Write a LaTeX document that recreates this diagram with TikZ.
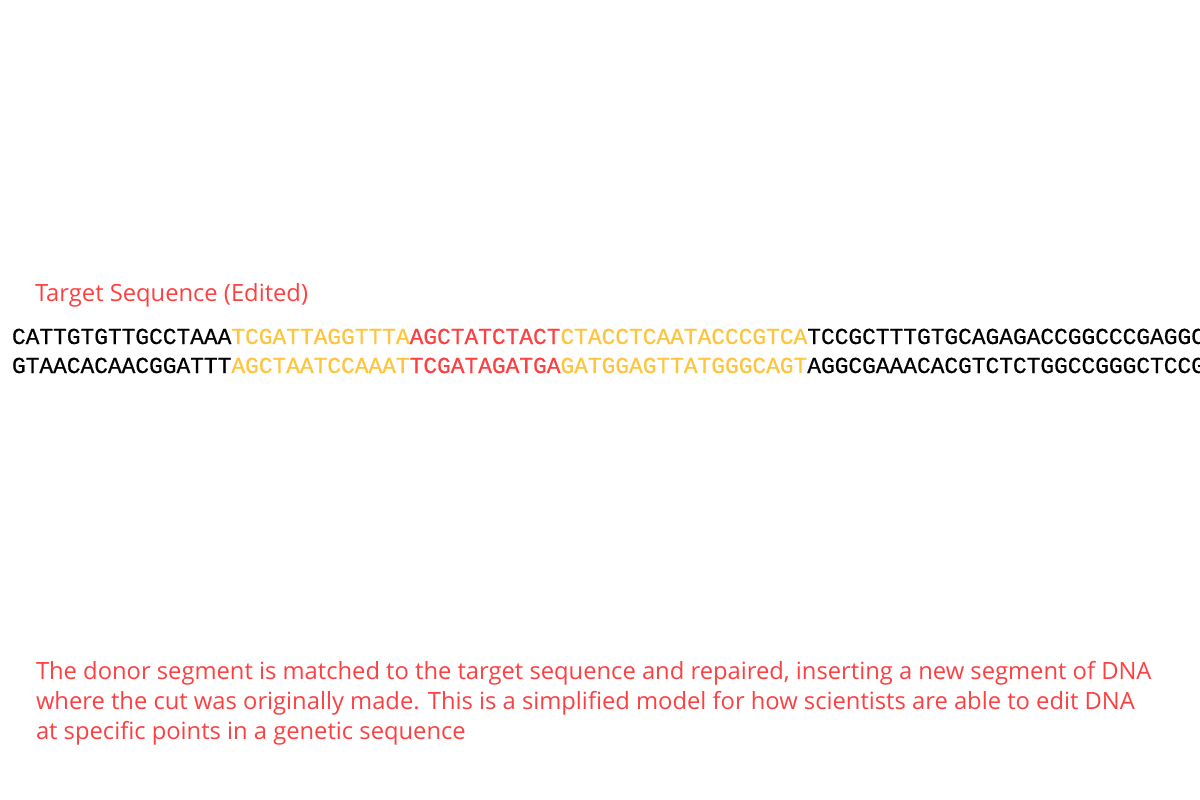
\documentclass[tikz,border=0pt]{standalone}
\usepackage{fontspec}
\setmainfont{Open Sans}
\newfontfamily\dnafont[FakeBold=0.6]{Liberation Mono}
\definecolor{tred}{RGB}{252,64,66}
\definecolor{tyel}{RGB}{255,196,61}
\begin{document}
\begin{tikzpicture}[x=1bp,y=-1bp,
  seg/.style={inner sep=0pt, outer sep=0pt, anchor=base west,
    font=\dnafont\fontsize{22.85bp}{24bp}\selectfont},
  note/.style={inner sep=0pt, outer sep=0pt, anchor=base west, text=tred,
    font=\fontsize{23.75bp}{28bp}\selectfont}]
\useasboundingbox (0,0) rectangle (1200,800);
\clip (0,0) rectangle (1200,800);
\node[note] (title) at (35,301) {Target Sequence (Edited)};
% top strand
\node[seg, text=black] (a1) at (12,344) {CATTGTGTTGCCTAAA};
\node[seg, text=tyel] (a2) at (a1.base east) {TCGATTAGGTTTA};
\node[seg, text=tred] (a3) at (a2.base east) {AGCTATCTACT};
\node[seg, text=tyel] (a4) at (a3.base east) {CTACCTCAATACCCGTCA};
\node[seg, text=black] (a5) at (a4.base east) {TCCGCTTTGTGCAGAGACCGGCCCGAGGC};
% bottom strand
\node[seg, text=black] (b1) at (12,373) {GTAACACAACGGATTT};
\node[seg, text=tyel] (b2) at (b1.base east) {AGCTAATCCAAAT};
\node[seg, text=tred] (b3) at (b2.base east) {TCGATAGATGA};
\node[seg, text=tyel] (b4) at (b3.base east) {GATGGAGTTATGGGCAGT};
\node[seg, text=black] (b5) at (b4.base east) {AGGCGAAACACGTCTCTGGCCGGGCTCCG};
% caption
\node[note] (p1) at (36,679.5) {The donor segment is matched to the target sequence and repaired, inserting a new segment of DNA};
\node[note] (p2) at (36,709.5) {where the cut was originally made. This is a simplified model for how scientists are able to edit DNA};
\node[note] (p3) at (36,739.5) {at specific points in a genetic sequence};
\end{tikzpicture}
\end{document}
